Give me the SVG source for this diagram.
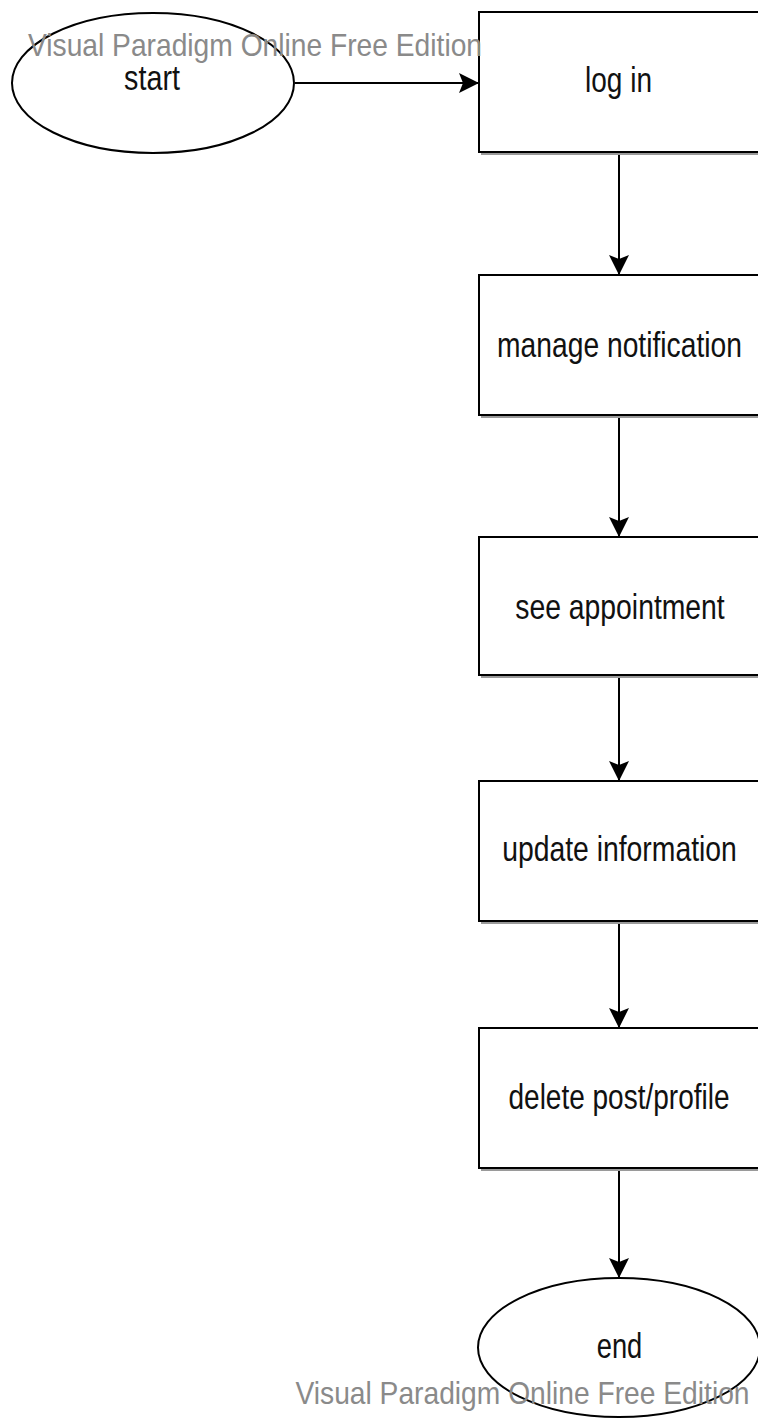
<svg xmlns="http://www.w3.org/2000/svg" width="758" height="1419" viewBox="0 0 758 1419">
<style>
.shape{fill:#fff;stroke:#000;stroke-width:2}
.shadow{fill:none;stroke:#9a9a9a;stroke-width:2}
.lbl{font-family:"Liberation Sans",Arial,sans-serif;font-size:35px;fill:#111;text-anchor:middle}
.wm{font-family:"Liberation Sans",Arial,sans-serif;font-size:31px;fill:#8a8a8a;text-anchor:middle}
.conn{stroke:#000;stroke-width:2;fill:none}
</style>
<defs>
<marker id="arr" viewBox="0 0 20 20" refX="20" refY="10" markerWidth="20" markerHeight="20" markerUnits="userSpaceOnUse" orient="auto">
<path d="M0,0 L20,10 L0,20 L4,10 Z" fill="#000"/>
</marker>
</defs>
<rect width="758" height="1419" fill="#fff"/>
<g id="connectors">
<line class="conn" x1="295" y1="83" x2="479" y2="83" marker-end="url(#arr)"/>
<line class="conn" x1="619" y1="153" x2="619" y2="275" marker-end="url(#arr)"/>
<line class="conn" x1="619" y1="417" x2="619" y2="537" marker-end="url(#arr)"/>
<line class="conn" x1="619" y1="677" x2="619" y2="781" marker-end="url(#arr)"/>
<line class="conn" x1="619" y1="923" x2="619" y2="1028" marker-end="url(#arr)"/>
<line class="conn" x1="619" y1="1170" x2="619" y2="1278" marker-end="url(#arr)"/>
</g>
<g id="start">
<ellipse class="shape" cx="153" cy="83" rx="141" ry="70"/>
<text class="lbl" transform="translate(152,90) scale(0.82,1)">start</text>
</g>
<g id="login">
<line class="shadow" x1="481" y1="154" x2="759" y2="154"/>
<rect class="shape" x="479" y="12" width="280" height="140"/>
<text class="lbl" transform="translate(618.5,92) scale(0.8,1)">log in</text>
</g>
<g id="manage">
<line class="shadow" x1="481" y1="417" x2="759" y2="417"/>
<rect class="shape" x="479" y="275" width="280" height="140"/>
<text class="lbl" transform="translate(619.5,357) scale(0.807,1)">manage notification</text>
</g>
<g id="see">
<line class="shadow" x1="481" y1="677" x2="759" y2="677"/>
<rect class="shape" x="479" y="537" width="280" height="138"/>
<text class="lbl" transform="translate(620,619) scale(0.81,1)">see appointment</text>
</g>
<g id="update">
<line class="shadow" x1="481" y1="923" x2="759" y2="923"/>
<rect class="shape" x="479" y="781" width="280" height="140"/>
<text class="lbl" transform="translate(619.5,861) scale(0.81,1)">update information</text>
</g>
<g id="delete">
<line class="shadow" x1="481" y1="1170" x2="759" y2="1170"/>
<rect class="shape" x="479" y="1028" width="280" height="140"/>
<text class="lbl" transform="translate(619,1109) scale(0.8,1)">delete post/profile</text>
</g>
<g id="end">
<ellipse class="shape" cx="619" cy="1347.5" rx="141" ry="69.5"/>
<text class="lbl" transform="translate(619.5,1358) scale(0.78,1)">end</text>
</g>
<g id="watermarks">
<text class="wm" transform="translate(255,56) scale(0.91,1)">Visual Paradigm Online Free Edition</text>
<text class="wm" transform="translate(522.5,1404) scale(0.91,1)">Visual Paradigm Online Free Edition</text>
</g>
</svg>
